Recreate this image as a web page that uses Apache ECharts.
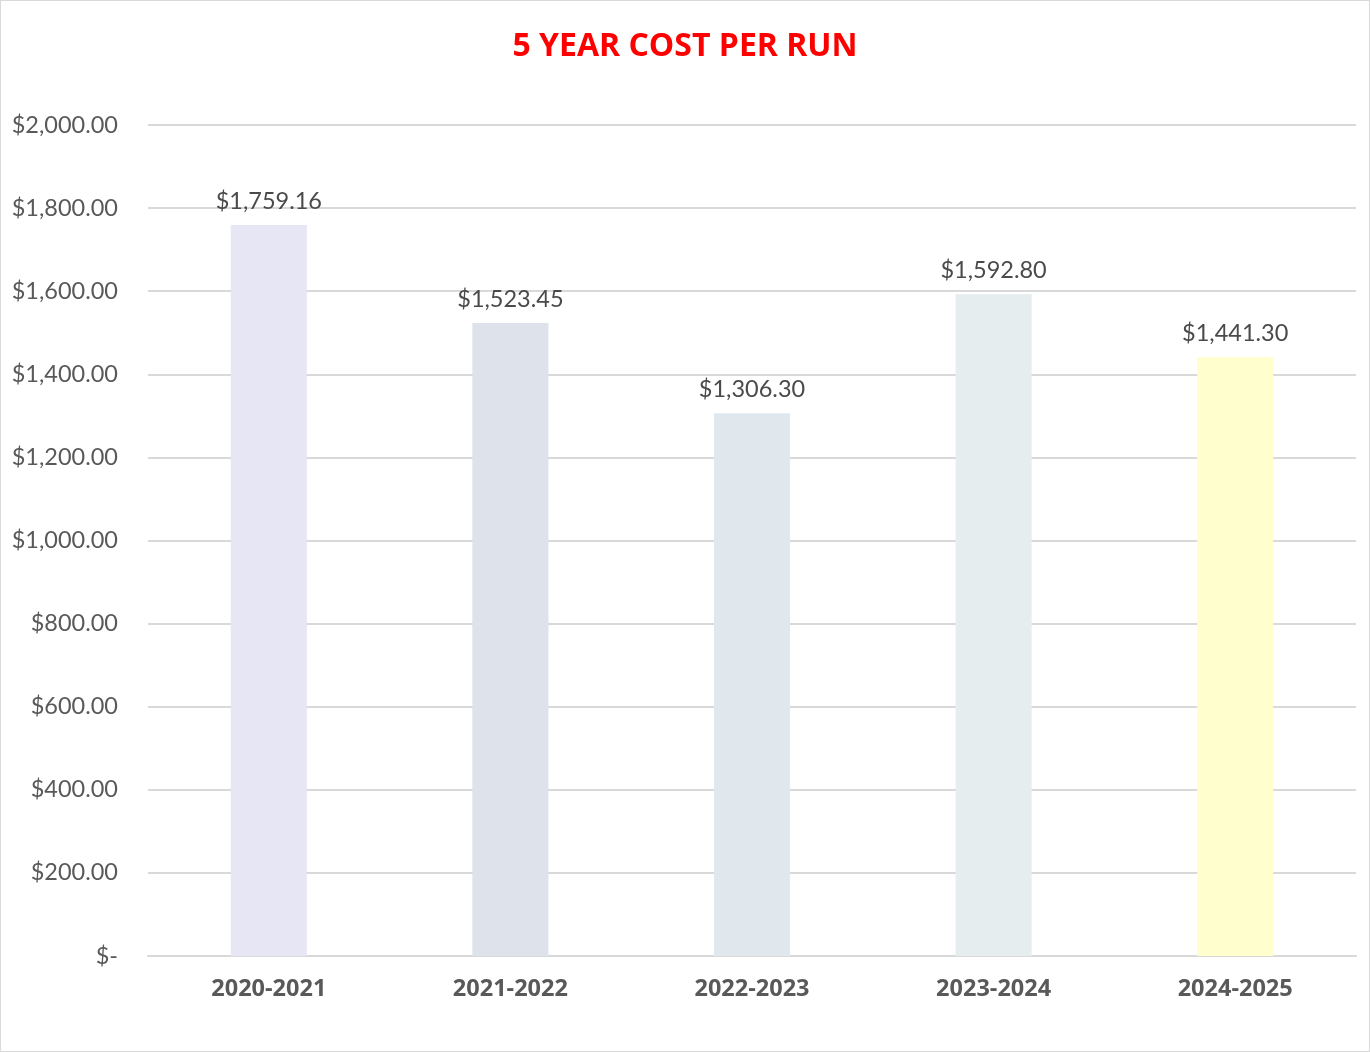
<!DOCTYPE html>
<html><head><meta charset="utf-8">
<script src="https://cdn.jsdelivr.net/npm/echarts@6/dist/echarts.min.js"></script>
<style>html,body{margin:0;padding:0;background:#fff}#c{width:1370px;height:1052px;box-sizing:border-box;border:1px solid #d9d9d9}</style>
</head><body><div id="c"></div>
<script>
const categories = ['2020-2021','2021-2022','2022-2023','2023-2024','2024-2025'];
const values = [1759.16, 1523.45, 1306.30, 1592.80, 1441.30];
const barColors = ['#E6E6F4','#DEE2EA','#E0E8EE','#E5EDEF','#FFFECC'];
const yTicks = {min:0, max:2000, interval:200};

function money(v){
  if (v === 0) return '$-';
  return '$' + v.toLocaleString('en-US',{minimumFractionDigits:2, maximumFractionDigits:2});
}
const chart = echarts.init(document.getElementById('c'), null, {renderer:'canvas'});
chart.setOption({
  animation:false,
  title:{text:'5 YEAR COST PER RUN', left:'center', top:25,
    textStyle:{color:'#FF0000', fontSize:32, fontWeight:'bold', fontFamily:'Open Sans'}},
  grid:{left:147, right:13, top:124, bottom:95, containLabel:false},
  xAxis:{type:'category', data:categories,
    axisLine:{lineStyle:{color:'#D9D9D9', width:2}}, axisTick:{show:false},
    axisLabel:{color:'#595959', fontSize:23.5, fontWeight:'bold', fontFamily:'Open Sans', margin:21}},
  yAxis:{type:'value', min:yTicks.min, max:yTicks.max, interval:yTicks.interval,
    axisLine:{show:false}, axisTick:{show:false},
    splitLine:{lineStyle:{color:'#D9D9D9', width:2}},
    axisLabel:{color:'#595959', fontSize:23.5, fontFamily:'Lato', margin:30, formatter:money}},
  series:[{type:'bar', barWidth:'31.5%',
    data: values.map((v,i)=>({value:v, itemStyle:{color:barColors[i]}})),
    label:{show:true, position:'top', distance:12, color:'#4a4a4a', fontSize:23.5, fontFamily:'Lato', formatter:p=>money(p.value)}}]
});
</script></body></html>
